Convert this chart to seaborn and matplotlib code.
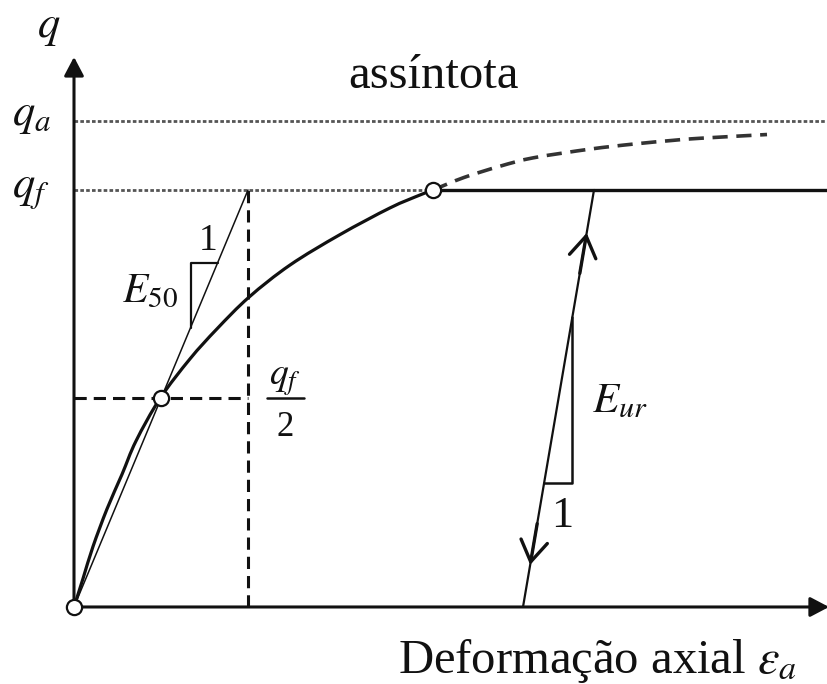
import numpy as np
import pandas as pd
import seaborn as sns
import matplotlib.pyplot as plt
from matplotlib.path import Path
from matplotlib.patches import PathPatch

# Hardening-soil style stress-strain sketch (normalised units: q / q_f)
eps_curve = [0, 0.09, 0.19, 0.33, 0.48, 0.62, 0.86, 1.16, 1.43, 1.75, 2.16, 2.66, 3.16, 3.46, 3.59]
q_curve = [0, 0.068, 0.145, 0.235, 0.318, 0.398, 0.50, 0.595, 0.667, 0.743, 0.82, 0.893, 0.957, 0.988, 1.0]

# continuation of the hyperbola towards the asymptote
eps_asym = [3.59, 3.90, 4.26, 4.59, 5.16, 5.59, 5.99, 6.26, 6.93]
q_asym = [1.0, 1.03, 1.057, 1.077, 1.098, 1.11, 1.119, 1.124, 1.133]

q_f = 1.0
q_a = 1.165
eps_50 = 0.87
eps_axis_end = 7.55

# unloading / reloading branch
eur_eps = [4.49, 5.20]
eur_q = [0.0, 1.0]

sns.set_theme(style="white")
plt.rcParams["font.family"] = ["Liberation Serif", "DejaVu Serif"]
plt.rcParams["mathtext.fontset"] = "stix"

fig = plt.figure(figsize=(8.27, 6.84), dpi=100)
ax = fig.add_axes([0, 0, 1, 1])
ax.set_xlim(-0.74, 7.53)
ax.set_ylim(-0.1847, 1.4556)
ax.axis("off")

ink = "#111111"


def smooth_path(xs, ys):
    """Catmull-Rom curve through the given points, as cubic Bezier segments."""
    p = np.column_stack([xs, ys]).astype(float)
    ext = np.vstack([p[0], p, p[-1]])
    verts = [p[0]]
    codes = [Path.MOVETO]
    for i in range(1, len(ext) - 2):
        c1 = ext[i] + (ext[i + 1] - ext[i - 1]) / 6.0
        c2 = ext[i + 1] - (ext[i + 2] - ext[i]) / 6.0
        verts += [c1, c2, ext[i + 1]]
        codes += [Path.CURVE4] * 3
    return Path(verts, codes)


# axes with arrows
head = "-|>,head_length=0.95,head_width=0.5"
ax.annotate("", xy=(0, 1.319), xytext=(0, 0), annotation_clip=False,
            arrowprops=dict(arrowstyle=head, lw=2.2, color=ink, shrinkA=0, shrinkB=0))
ax.annotate("", xy=(eps_axis_end, 0), xytext=(0, 0), annotation_clip=False,
            arrowprops=dict(arrowstyle=head, lw=2.2, color=ink, shrinkA=0, shrinkB=0))

# reference levels
dot = (0, (1.3, 0.8))
ax.plot([0, 7.53], [q_a, q_a], color="#555555", lw=2.0, ls=dot)
ax.plot([0, eps_curve[-1]], [q_f, q_f], color="#555555", lw=2.0, ls=dot)
ax.plot([eps_curve[-1], 7.53], [q_f, q_f], color=ink, lw=2.4, solid_capstyle="butt")

# q_f/2 construction lines
dash = (0, (4, 2.3))
ax.plot([0, 2 * eps_50], [q_f / 2, q_f / 2], color=ink, lw=2.2, ls=dash)
ax.plot([2 * eps_50, 2 * eps_50], [0, q_f], color=ink, lw=2.2, ls=dash)

# secant modulus E50
ax.plot([0, 2 * eps_50], [0, q_f], color=ink, lw=1.1)
tri_x = 1.165
tri_top = 0.825
ax.plot([tri_x, tri_x, tri_top * 2 * eps_50], [tri_x / (2 * eps_50), tri_top, tri_top],
        color=ink, lw=1.6)

# main curve and dashed asymptotic branch
ax.add_patch(PathPatch(smooth_path(eps_curve, q_curve), fill=False,
                       edgecolor=ink, lw=2.3, capstyle="round"))
ax.add_patch(PathPatch(smooth_path(eps_asym, q_asym), fill=False,
                       edgecolor="#333333", lw=2.6, linestyle=(0, (4.2, 2.4))))

# unloading-reloading line
sns.lineplot(x=eur_eps, y=eur_q, color=ink, lw=1.6, ax=ax, estimator=None, sort=False)


def on_eur(q):
    return eur_eps[0] + (eur_eps[1] - eur_eps[0]) * (q - eur_q[0]) / (eur_q[1] - eur_q[0])


arrow_style = "->,head_length=1.25,head_width=0.8"
ax.annotate("", xy=(on_eur(0.897), 0.897), xytext=(on_eur(0.80), 0.80),
            arrowprops=dict(arrowstyle=arrow_style, lw=2.4, color=ink, shrinkA=0, shrinkB=0))
ax.annotate("", xy=(on_eur(0.101), 0.101), xytext=(on_eur(0.20), 0.20),
            arrowprops=dict(arrowstyle=arrow_style, lw=2.4, color=ink, shrinkA=0, shrinkB=0))

# E_ur slope triangle
apex_q, base_q = 0.695, 0.297
ax.plot([on_eur(apex_q), on_eur(apex_q), on_eur(base_q)], [apex_q, base_q, base_q],
        color=ink, lw=1.8)

# marked points
pts = pd.DataFrame({"eps": [0, eps_50, eps_curve[-1]], "q": [0, q_f / 2, q_f]})
sns.scatterplot(data=pts, x="eps", y="q", s=120, facecolor="white",
                edgecolor=ink, linewidth=1.6, zorder=6, ax=ax, clip_on=False)

# labels
ax.text(-0.37, 1.367, "$q$", fontsize=32, color=ink, ha="left", va="baseline")
ax.text(-0.62, 1.156, "$q_a$", fontsize=32, color=ink, ha="left", va="baseline")
ax.text(-0.62, 0.983, "$q_f$", fontsize=32, color=ink, ha="left", va="baseline")
ax.text(2.74, 1.245, "assíntota", fontsize=35, color=ink, ha="left", va="baseline")
ax.text(0.48, 0.731, "$E_{50}$", fontsize=30, color=ink, ha="left", va="baseline")
ax.text(1.34, 0.856, "1", fontsize=27, color=ink, ha="center", va="baseline")
ax.text(5.18, 0.468, "$E_{ur}$", fontsize=31, color=ink, ha="left", va="baseline")
ax.text(4.88, 0.192, "1", fontsize=32, color=ink, ha="center", va="baseline")
ax.text(2.11, 0.532, "$q_f$", fontsize=27, color=ink, ha="center", va="baseline")
ax.plot([1.93, 2.30], [q_f / 2, q_f / 2], color=ink, lw=1.8)
ax.text(2.11, 0.410, "2", fontsize=25, color=ink, ha="center", va="baseline")
ax.text(3.24, -0.158, r"Deformação axial $\varepsilon_a$", fontsize=35, color=ink,
        ha="left", va="baseline")

fig.savefig("out.png", dpi=100, facecolor="white")
